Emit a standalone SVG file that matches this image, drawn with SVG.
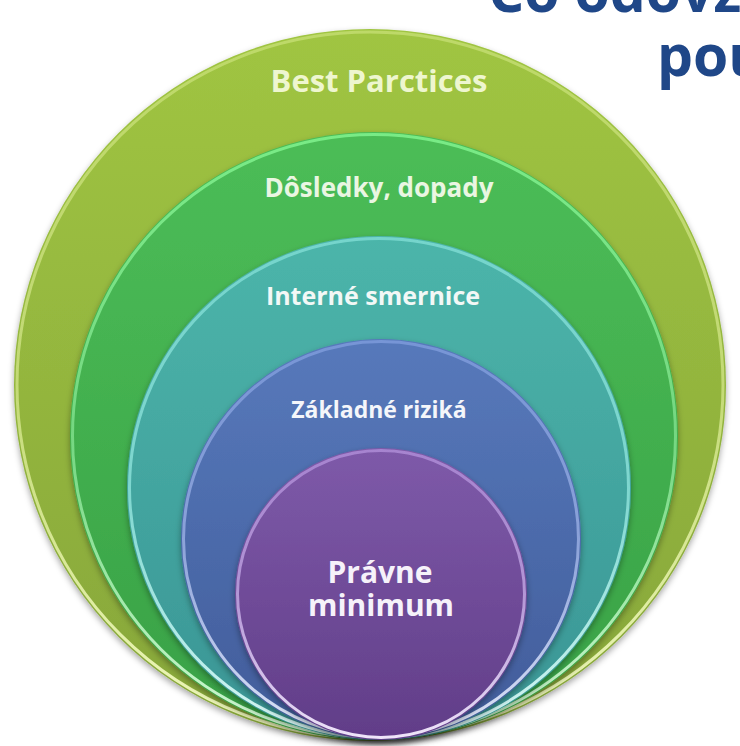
<svg xmlns="http://www.w3.org/2000/svg" width="740" height="746" viewBox="0 0 740 746">
  <defs>
    <style>
      .lbl { font-family: "Open Sans", "Liberation Sans", sans-serif; font-weight: 700; text-anchor: middle; }
      .title { font-family: "Open Sans", "Liberation Sans", sans-serif; font-weight: 700; fill: #1f4788; font-size: 57px; }
      .rim { fill: none; stroke-width: 3; }
    </style>
    <filter id="shadow" x="-10%" y="-10%" width="120%" height="125%">
      <feDropShadow dx="0" dy="3" stdDeviation="3" flood-color="#000" flood-opacity="0.35"/>
    </filter>
    <linearGradient id="gOuter" x1="0" y1="0" x2="0" y2="1">
      <stop offset="0" stop-color="#a0c542"/>
      <stop offset="1" stop-color="#87a63a"/>
    </linearGradient>
    <linearGradient id="gGreen" x1="0" y1="0" x2="0" y2="1">
      <stop offset="0" stop-color="#4cbd57"/>
      <stop offset="1" stop-color="#38a146"/>
    </linearGradient>
    <linearGradient id="gTeal" x1="0" y1="0" x2="0" y2="1">
      <stop offset="0" stop-color="#4cb5aa"/>
      <stop offset="1" stop-color="#3a9595"/>
    </linearGradient>
    <linearGradient id="gBlue" x1="0" y1="0" x2="0" y2="1">
      <stop offset="0" stop-color="#5779bb"/>
      <stop offset="1" stop-color="#415c9a"/>
    </linearGradient>
    <linearGradient id="gPurple" x1="0" y1="0" x2="0" y2="1">
      <stop offset="0" stop-color="#7e5aa9"/>
      <stop offset="1" stop-color="#613d88"/>
    </linearGradient>
    <!-- rim light: faint at the top, bright along the lower edge -->
    <linearGradient id="rimY" x1="0" y1="0" x2="0" y2="1">
      <stop offset="0" stop-color="#f4ffb0" stop-opacity="0.35"/>
      <stop offset="0.5" stop-color="#f4ffb0" stop-opacity="0.5"/>
      <stop offset="1" stop-color="#f8ffc8" stop-opacity="0.95"/>
    </linearGradient>
    <linearGradient id="rimG" x1="0" y1="0" x2="0" y2="1">
      <stop offset="0" stop-color="#8cff9a" stop-opacity="0.7"/>
      <stop offset="0.5" stop-color="#a8ffb4" stop-opacity="0.5"/>
      <stop offset="1" stop-color="#e0ffe0" stop-opacity="0.95"/>
    </linearGradient>
    <linearGradient id="rimT" x1="0" y1="0" x2="0" y2="1">
      <stop offset="0" stop-color="#9ff5ee" stop-opacity="0.5"/>
      <stop offset="0.5" stop-color="#b0fff6" stop-opacity="0.55"/>
      <stop offset="1" stop-color="#e6fffc" stop-opacity="0.95"/>
    </linearGradient>
    <linearGradient id="rimB" x1="0" y1="0" x2="0" y2="1">
      <stop offset="0" stop-color="#a8c0ff" stop-opacity="0.4"/>
      <stop offset="0.5" stop-color="#c0d0ff" stop-opacity="0.55"/>
      <stop offset="1" stop-color="#eef2ff" stop-opacity="0.95"/>
    </linearGradient>
    <linearGradient id="rimP" x1="0" y1="0" x2="0" y2="1">
      <stop offset="0" stop-color="#d8b8ff" stop-opacity="0.45"/>
      <stop offset="0.5" stop-color="#e0c8ff" stop-opacity="0.6"/>
      <stop offset="1" stop-color="#f6eeff" stop-opacity="0.95"/>
    </linearGradient>
  </defs>

  <rect width="740" height="746" fill="#ffffff"/>

  <!-- heading, partly outside the canvas -->
  <g id="heading">
    <text class="title" x="488" y="12">Čo odovz</text>
    <text class="title" x="657" y="76">pou</text>
  </g>

  <g id="best-practices">
    <circle cx="370" cy="385" r="356" fill="url(#gOuter)" filter="url(#shadow)"/>
    <circle class="rim" cx="370" cy="385" r="353" stroke="url(#rimY)"/>
    <text class="lbl" x="379" y="92" font-size="31" fill="#eef6cf">Best Parctices</text>
  </g>

  <g id="dosledky">
    <circle cx="374" cy="436" r="304" fill="url(#gGreen)" filter="url(#shadow)"/>
    <circle class="rim" cx="374" cy="436" r="301.5" stroke="url(#rimG)"/>
    <text class="lbl" x="379" y="197" font-size="26" fill="#eaf6e2">Dôsledky, dopady</text>
  </g>

  <g id="interne-smernice">
    <circle cx="379" cy="488" r="252" fill="url(#gTeal)" filter="url(#shadow)"/>
    <circle class="rim" cx="379" cy="488" r="249.5" stroke="url(#rimT)"/>
    <text class="lbl" x="373" y="305" font-size="25" fill="#f2f8f6">Interné smernice</text>
  </g>

  <g id="zakladne-rizika">
    <circle cx="381" cy="539" r="200" fill="url(#gBlue)" filter="url(#shadow)"/>
    <circle class="rim" cx="381" cy="539" r="197.5" stroke="url(#rimB)"/>
    <text class="lbl" x="379" y="418" font-size="23" fill="#f4f6fa">Základné riziká</text>
  </g>

  <g id="pravne-minimum">
    <circle cx="381" cy="594" r="146" fill="url(#gPurple)" filter="url(#shadow)"/>
    <circle class="rim" cx="381" cy="594" r="143.5" stroke="url(#rimP)"/>
    <text class="lbl" x="380" y="583" font-size="30" fill="#f6f2fa">Právne</text>
    <text class="lbl" x="381" y="616" font-size="30" fill="#f6f2fa">minimum</text>
  </g>
</svg>
